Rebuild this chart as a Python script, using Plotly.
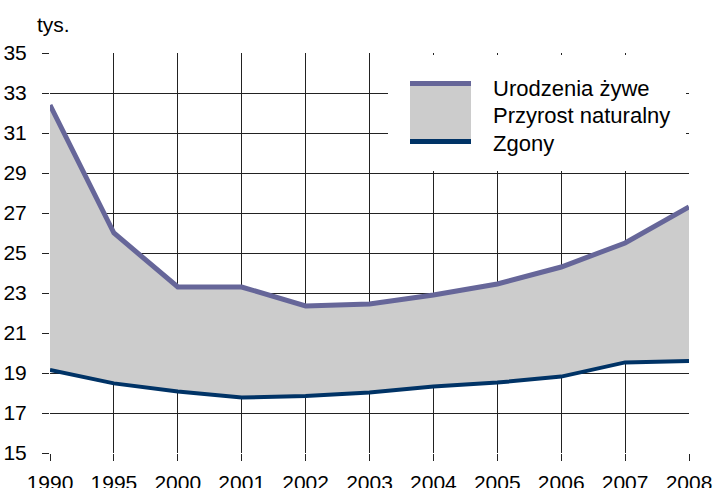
import plotly.graph_objects as go

years = ["1990", "1995", "2000", "2001", "2002", "2003", "2004", "2005", "2006", "2007", "2008"]
urodzenia = [32.4, 26.0, 23.3, 23.3, 22.35, 22.45, 22.9, 23.45, 24.3, 25.5, 27.3]
zgony = [19.15, 18.48, 18.07, 17.77, 17.85, 18.03, 18.32, 18.52, 18.82, 19.53, 19.6]
y_ticks = [15, 17, 19, 21, 23, 25, 27, 29, 31, 33, 35]

legend_labels = ["Urodzenia żywe", "Przyrost naturalny", "Zgony"]

C_BIRTH = "#666699"
C_DEATH = "#003366"
C_FILL = "#CCCCCC"
FONT = "Liberation Sans, Arial, sans-serif"

fig = go.Figure()
fig.add_trace(go.Scatter(x=years, y=zgony, mode="lines",
                         line=dict(color=C_DEATH, width=4), showlegend=False,
                         name=legend_labels[2]))
fig.add_trace(go.Scatter(x=years, y=urodzenia, mode="lines", fill="tonexty",
                         fillcolor=C_FILL, line=dict(color=C_BIRTH, width=5),
                         showlegend=False, name=legend_labels[0]))

W, H = 715, 488
PL, PR, PT, PB = 50, 689, 53, 453  # plot area in px
L, T = PL, PT
pw, ph = PR - PL, PB - PT
R = W - L - pw
B = H - T - ph

def px(x):
    return (x - PL) / pw

def py(y):
    return (PB - y) / ph

shapes = [
    # legend white box
    dict(type="rect", xref="paper", yref="paper", x0=px(388), x1=px(686), y0=py(171), y1=py(55),
         fillcolor="white", line=dict(width=0), layer="above"),
    # legend symbol
    dict(type="rect", xref="paper", yref="paper", x0=px(410), x1=px(471), y0=py(144), y1=py(81),
         fillcolor=C_FILL, line=dict(width=0), layer="above"),
    dict(type="rect", xref="paper", yref="paper", x0=px(410), x1=px(471), y0=py(86), y1=py(81),
         fillcolor=C_BIRTH, line=dict(width=0), layer="above"),
    dict(type="rect", xref="paper", yref="paper", x0=px(410), x1=px(471), y0=py(144), y1=py(139),
         fillcolor=C_DEATH, line=dict(width=0), layer="above"),
]

annotations = [
    dict(text="tys.", xref="paper", yref="paper", x=px(35), y=py(25), xanchor="left",
         yanchor="middle", showarrow=False, font=dict(family=FONT, size=21, color="black")),
]
for lab, yy in zip(legend_labels, [89, 116, 143]):
    annotations.append(dict(text=lab, xref="paper", yref="paper", x=px(491), y=py(yy),
                            xanchor="left", yanchor="middle", showarrow=False,
                            font=dict(family=FONT, size=22, color="black")))

fig.update_layout(
    width=W, height=H,
    margin=dict(l=L, r=R, t=T, b=B, pad=0, autoexpand=False),
    paper_bgcolor="white", plot_bgcolor="white",
    font=dict(family=FONT, size=21, color="black"),
    shapes=shapes, annotations=annotations,
    showlegend=False,
)
fig.update_xaxes(type="category", range=[0, len(years) - 1], showgrid=True,
                 gridcolor="#222222", gridwidth=1, ticks="outside", ticklen=7,
                 tickcolor="#222222", tickwidth=1, showline=False, zeroline=False,
                 tickfont=dict(family=FONT, size=21), tickangle=0, automargin=False,
                 ticklabelstandoff=4)
fig.update_yaxes(range=[15, 35], tickvals=y_ticks, showgrid=True,
                 gridcolor="#222222", gridwidth=1, ticks="outside", ticklen=7,
                 tickcolor="#222222", tickwidth=1, showline=False, zeroline=False,
                 tickfont=dict(family=FONT, size=21), ticklabelstandoff=11,
                 automargin=False)

fig.write_html("out.html", config={"displayModeBar": False},
               post_script="document.body.style.margin='0px';")
